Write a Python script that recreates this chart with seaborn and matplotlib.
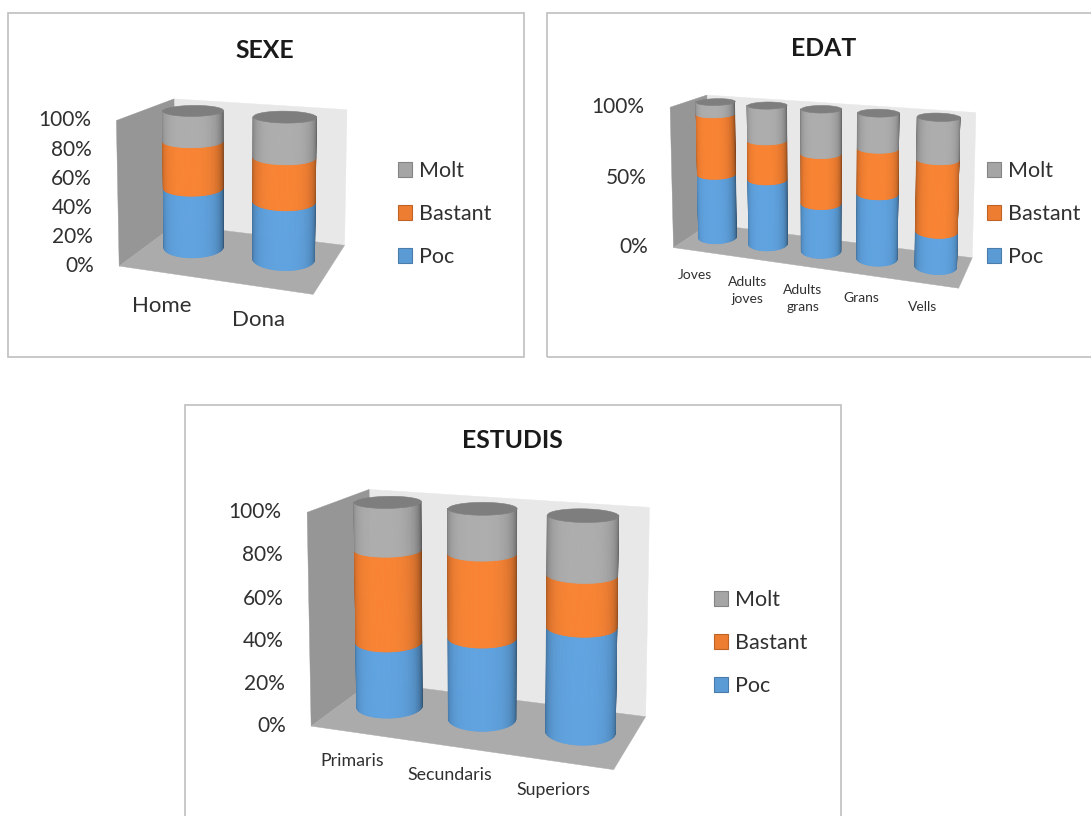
import numpy as np
import seaborn as sns
import matplotlib
matplotlib.use("Agg")
import matplotlib.pyplot as plt
from matplotlib.colors import to_rgb
from matplotlib.patches import Patch, Rectangle
from mpl_toolkits.mplot3d import proj3d
from mpl_toolkits.mplot3d.art3d import Poly3DCollection

# Survey shares, in percent of each group
series_names = ["Poc", "Bastant", "Molt"]

sexe_groups = ["Home", "Dona"]
sexe_poc = [44, 41]
sexe_bastant = [34, 31]
sexe_molt = [22, 28]
sexe_ticks = [0, 20, 40, 60, 80, 100]

edat_groups = ["Joves", "Adults\njoves", "Adults\ngrans", "Grans", "Vells"]
edat_poc = [47, 47, 34, 45, 24]
edat_bastant = [44, 28, 35, 31, 48]
edat_molt = [9, 25, 31, 24, 28]
edat_ticks = [0, 50, 100]

estudis_groups = ["Primaris", "Secundaris", "Superiors"]
estudis_poc = [32, 39, 49]
estudis_bastant = [45, 40, 24]
estudis_molt = [23, 21, 27]
estudis_ticks = [0, 20, 40, 60, 80, 100]

W_PX, H_PX = 1091, 816
sns.set_theme(style="white", font="Lato")
palette = sns.color_palette(["#5B9BD5", "#ED7D31", "#A5A5A5"])
FLOOR, LEFT_WALL, BACK_WALL, CAP = "#ABABAB", "#969696", "#E8E8E8", "#7E7E7E"
TEXT = "#303030"
Z_TOP = 270  # upper z limit; the eye sits above the 100 % level, so the walls stay upright
BAR_DEPTH = 0.55  # where the cylinders stand between the front and back of the floor

fig = plt.figure(figsize=(W_PX / 100, H_PX / 100), dpi=100, facecolor="white")


def to_display(x, y):
    return x, H_PX - y


def add_frame(x0, y0, x1, y1):
    fig.add_artist(Rectangle((x0, H_PX - y1), x1 - x0, y1 - y0, transform=None,
                             fill=False, edgecolor="#BFBFBF", linewidth=1.2))


def fit_axes(ax, limits, anchors):
    """Scale and shift the axes so the box corners fall on the wanted pixels."""
    fig.canvas.draw()
    ax.apply_aspect()
    pos = ax.get_position(original=False)
    size0 = pos.width * W_PX
    M = ax.get_proj()
    n, _, _ = limits
    src, dst = [], []
    for (bx, by, bz), (px, py) in anchors:
        X, Y, _ = proj3d.proj_transform(bx * n, by, bz * 100, M)
        src.append(ax.transData.transform((X, Y)) - (pos.x0 * W_PX, pos.y0 * H_PX))
        dst.append(to_display(px, py))
    src = np.array(src) / size0
    dst = np.array(dst, float)
    sc, dc = src.mean(0), dst.mean(0)
    s = ((src - sc) * (dst - dc)).sum() / ((src - sc) ** 2).sum()
    origin = dc - s * sc
    ax.set_position([origin[0] / W_PX, origin[1] / H_PX, s / W_PX, s / H_PX])
    fig.canvas.draw()


def add_polys(ax, polys, facecolors, zorder, lw):
    coll = Poly3DCollection(polys, facecolors=facecolors, edgecolors=facecolors, linewidths=lw)
    coll.set_zorder(zorder)
    coll.set_clip_on(False)
    ax.add_collection3d(coll, autolim=False)


def cylinder(ax, cx, z0, z1, rx, ry, azim, color, zorder):
    view = np.radians(azim)
    t = np.linspace(-0.97, 0.97, 61)
    base = np.array(to_rgb(color))
    verts, cols = [], []
    for a, b in zip(t[:-1], t[1:]):
        aa, bb = view + a * np.pi / 2, view + b * np.pi / 2
        xa, ya = cx + rx * np.cos(aa), BAR_DEPTH + ry * np.sin(aa)
        xb, yb = cx + rx * np.cos(bb), BAR_DEPTH + ry * np.sin(bb)
        verts.append([(xa, ya, z0), (xb, yb, z0), (xb, yb, z1), (xa, ya, z1)])
        m = abs((a + b) / 2 + 0.08)
        shade = 1.05 - 0.48 * m ** 3.0
        cols.append(np.clip(base * shade, 0, 1))
    add_polys(ax, verts, cols, zorder, 0.6)


def draw_panel(rect_view, groups, stacks, ticks, anchors, cat_font, tick_font,
               cat_offset, legend_xy, title, title_xy, cat_spacing=1.25):
    elev, azim, focal, W, D, H, radius = rect_view
    n = len(groups)
    ax = fig.add_axes([0.1, 0.1, 0.4, 0.4 * W_PX / H_PX], projection="3d",
                      computed_zorder=False)
    ax.set_proj_type("persp", focal_length=focal)
    ax.view_init(elev=elev, azim=azim)
    ax.set_box_aspect((W, D, H * Z_TOP / 100))
    ax.set_axis_off()
    ax.patch.set_alpha(0)

    floor = [[(0, 0, 0), (n, 0, 0), (n, 1, 0), (0, 1, 0)]]
    lwall = [[(0, 0, 0), (0, 1, 0), (0, 1, 100), (0, 0, 100)]]
    bwall = [[(0, 1, 0), (n, 1, 0), (n, 1, 100), (0, 1, 100)]]
    for poly, col, z in [(bwall, BACK_WALL, 1), (lwall, LEFT_WALL, 2), (floor, FLOOR, 3)]:
        add_polys(ax, poly, col, z, 0.3)

    rx = radius / (W / n)
    ry = radius / D
    order = 10
    for i in range(n):
        cx = i + 0.5
        bottom = 0
        for values, color in zip(stacks, palette):
            top = bottom + values[i]
            cylinder(ax, cx, bottom, top, rx, ry, azim, color, order)
            order += 1
            bottom = top
        t = np.linspace(0, 2 * np.pi, 72)
        cap = [list(zip(cx + rx * np.cos(t), BAR_DEPTH + ry * np.sin(t),
                        np.full_like(t, bottom)))]
        add_polys(ax, cap, CAP, order, 0.4)
        order += 1

    ax.set_xlim(0, n)
    ax.set_ylim(0, 1)
    ax.set_zlim(0, Z_TOP)
    fit_axes(ax, (n, 1, 100), anchors)

    M = ax.get_proj()
    for tick in ticks:
        X, Y, _ = proj3d.proj_transform(0, 0, tick, M)
        ax.annotate(f"{tick}%", xy=(X, Y), xycoords="data", xytext=(-25, 0),
                    textcoords="offset pixels", ha="right", va="center",
                    fontsize=tick_font, color=TEXT, annotation_clip=False)
    for i, g in enumerate(groups):
        X, Y, _ = proj3d.proj_transform(i + 0.5, 0, 0, M)
        ax.annotate(g, xy=(X, Y), xycoords="data", xytext=cat_offset,
                    textcoords="offset pixels", ha="center", va="top",
                    fontsize=cat_font, color=TEXT, annotation_clip=False,
                    linespacing=cat_spacing)

    fig.text(title_xy[0] / W_PX, 1 - title_xy[1] / H_PX, title, ha="center", va="center",
             fontsize=17.8, fontweight="bold", color="#1a1a1a")

    handles = [Patch(facecolor=c, edgecolor=np.array(to_rgb(c)) * 0.8, linewidth=0.8)
               for c in palette]
    fig.legend(handles[::-1], series_names[::-1], loc="center left",
               bbox_to_anchor=(legend_xy[0] / W_PX, 1 - legend_xy[1] / H_PX),
               frameon=False, fontsize=15.5, handlelength=0.66, handleheight=0.66,
               handletextpad=0.3, labelspacing=1.07, borderpad=0, borderaxespad=0,
               labelcolor=TEXT)


add_frame(8, 13, 524, 357)
add_frame(547, 13, 1100, 357)
add_frame(185, 405, 841, 830)

draw_panel((7, -70, 0.32, 202, 137, 150, 32), sexe_groups,
           [sexe_poc, sexe_bastant, sexe_molt], sexe_ticks,
           [((0, 0, 0), (118, 267)), ((1, 0, 0), (307, 295)), ((1, 1, 0), (345, 240)),
            ((0, 1, 0), (178, 227)), ((0, 0, 1), (112, 120)), ((0, 1, 1), (178, 99)),
            ((1, 1, 1), (348, 108))],
           16, 15, (-2, -24), (398, 214), "SEXE", (265, 50))

draw_panel((7, -70, 0.29, 300, 79, 150, 20.5), edat_groups,
           [edat_poc, edat_bastant, edat_molt], edat_ticks,
           [((0, 0, 0), (673, 248)), ((1, 0, 0), (956, 286)), ((1, 1, 0), (972, 251)),
            ((0, 1, 0), (710, 227)), ((0, 0, 1), (663, 108)), ((0, 1, 1), (710, 97)),
            ((1, 1, 1), (979, 112))],
           10, 15, (-3, -18), (987, 214), "EDAT", (824, 48), cat_spacing=1.5)

draw_panel((7, -70, 0.317, 320, 145, 225, 35.5), estudis_groups,
           [estudis_poc, estudis_bastant, estudis_molt], estudis_ticks,
           [((0, 0, 0), (309, 727)), ((1, 0, 0), (609, 767)), ((1, 1, 0), (645, 710)),
            ((0, 1, 0), (374, 687)), ((0, 0, 1), (300, 513)), ((0, 1, 1), (374, 491)),
            ((1, 1, 1), (653, 505))],
           12.8, 15, (-5, -21), (714, 643), "ESTUDIS", (512, 441))

fig.savefig("out.png", dpi=100, facecolor="white")
